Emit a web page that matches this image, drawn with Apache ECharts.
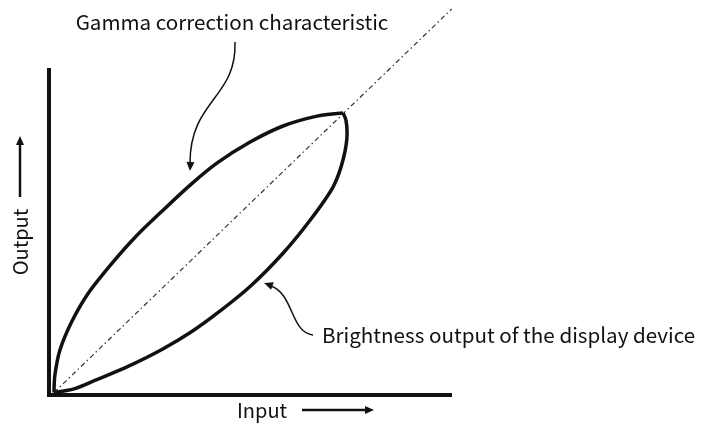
<!DOCTYPE html>
<html>
<head>
<meta charset="utf-8">
<script src="https://cdn.jsdelivr.net/npm/echarts@6/dist/echarts.min.js"></script>
<style>
  html, body { margin: 0; padding: 0; background: #fff; }
  #chart { width: 701px; height: 424px; }
</style>
</head>
<body>
<div id="chart"></div>
<script>
// curve values, input/output normalised so the curves meet at (1, 1)
const gammaX = [0.017, 0.020, 0.037, 0.078, 0.133, 0.214, 0.293, 0.384, 0.480, 0.571, 0.684, 0.796, 0.912, 1.0]
const gammaY = [0.007, 0.068, 0.157, 0.260, 0.359, 0.466, 0.559, 0.651, 0.744, 0.822, 0.897, 0.954, 0.989, 1.0]

const displayX = [0.017, 0.088, 0.156, 0.269, 0.384, 0.486, 0.571, 0.684, 0.796, 0.888, 0.966, 1.0, 1.014, 1.010, 1.0]
const displayY = [0.007, 0.021, 0.050, 0.100, 0.160, 0.224, 0.288, 0.384, 0.502, 0.619, 0.737, 0.833, 0.929, 0.975, 1.0]

const diagX = [0.017, 1.37]
const diagY = [0.007, 1.37]

const xMax = 1.364
const yMax = 1.153

const labels = {
  gamma: 'Gamma correction characteristic',
  display: 'Brightness output of the display device',
  input: 'Input',
  output: 'Output'
}

const zip = (xs, ys) => xs.map((x, i) => [x, ys[i]])

const chart = echarts.init(document.getElementById('chart'))

const font = '"Noto Sans CJK KR", "Noto Sans", sans-serif'
const ink = '#111'

// small filled triangle, tip at (x, y), pointing along angle
const arrowHead = (x, y, angle) => ({
  type: 'polygon',
  x: x, y: y, rotation: angle,
  shape: { points: [[0, 0], [-9, -4], [-9, 4]] },
  style: { fill: ink }
})

const option = {
  animation: false,
  backgroundColor: '#fff',
  grid: { left: 49, right: 251, top: 70, bottom: 29.5 },
  xAxis: {
    type: 'value', min: 0, max: xMax,
    axisLine: { show: true, lineStyle: { color: ink, width: 4, cap: 'square' } },
    axisTick: { show: false }, axisLabel: { show: false }, splitLine: { show: false }
  },
  yAxis: {
    type: 'value', min: 0, max: yMax,
    axisLine: { show: true, lineStyle: { color: ink, width: 4, cap: 'square' } },
    axisTick: { show: false }, axisLabel: { show: false }, splitLine: { show: false }
  },
  series: [
    {
      type: 'line', data: zip(diagX, diagY), clip: false, symbol: 'none',
      lineStyle: { color: '#333', width: 1.2, type: [5, 3, 1.5, 3] }
    },
    {
      type: 'line', data: zip(gammaX, gammaY), symbol: 'none', smooth: 0.3, clip: false,
      lineStyle: { color: ink, width: 3.5 }
    },
    {
      type: 'line', data: zip(displayX, displayY), symbol: 'none', smooth: 0.3, clip: false,
      lineStyle: { color: ink, width: 3.5 }
    }
  ],
  graphic: [
    {
      type: 'text', x: 232, y: 22,
      style: { text: labels.gamma, font: '20.6px ' + font, fill: ink, align: 'center', verticalAlign: 'middle' }
    },
    {
      type: 'bezierCurve',
      shape: { x1: 235, y1: 42, cpx1: 237, cpy1: 98, cpx2: 190, cpy2: 100, x2: 190, y2: 163 },
      style: { stroke: ink, lineWidth: 1.5, fill: null }
    },
    arrowHead(190, 171, -Math.PI / 2 - 0.05),
    {
      type: 'text', x: 322, y: 335,
      style: { text: labels.display, font: '20.6px ' + font, fill: ink, align: 'left', verticalAlign: 'middle' }
    },
    {
      type: 'bezierCurve',
      shape: { x1: 313, y1: 335, cpx1: 290, cpy1: 332, cpx2: 294, cpy2: 294, x2: 271, y2: 286 },
      style: { stroke: ink, lineWidth: 1.5, fill: null }
    },
    arrowHead(264, 283, Math.PI - 0.35),
    {
      type: 'text', x: 262, y: 410,
      style: { text: labels.input, font: '20px ' + font, fill: ink, align: 'center', verticalAlign: 'middle' }
    },
    {
      type: 'line', shape: { x1: 302, y1: 410, x2: 366, y2: 410 },
      style: { stroke: ink, lineWidth: 2.5 }
    },
    arrowHead(374, 410, 0),
    {
      type: 'text', x: 20, y: 242, rotation: Math.PI / 2,
      style: { text: labels.output, font: '20px ' + font, fill: ink, align: 'center', verticalAlign: 'middle' }
    },
    {
      type: 'line', shape: { x1: 20, y1: 197, x2: 20, y2: 144 },
      style: { stroke: ink, lineWidth: 2.5 }
    },
    arrowHead(20, 136, Math.PI / 2)
  ]
}

chart.setOption(option)
</script>
</body>
</html>
